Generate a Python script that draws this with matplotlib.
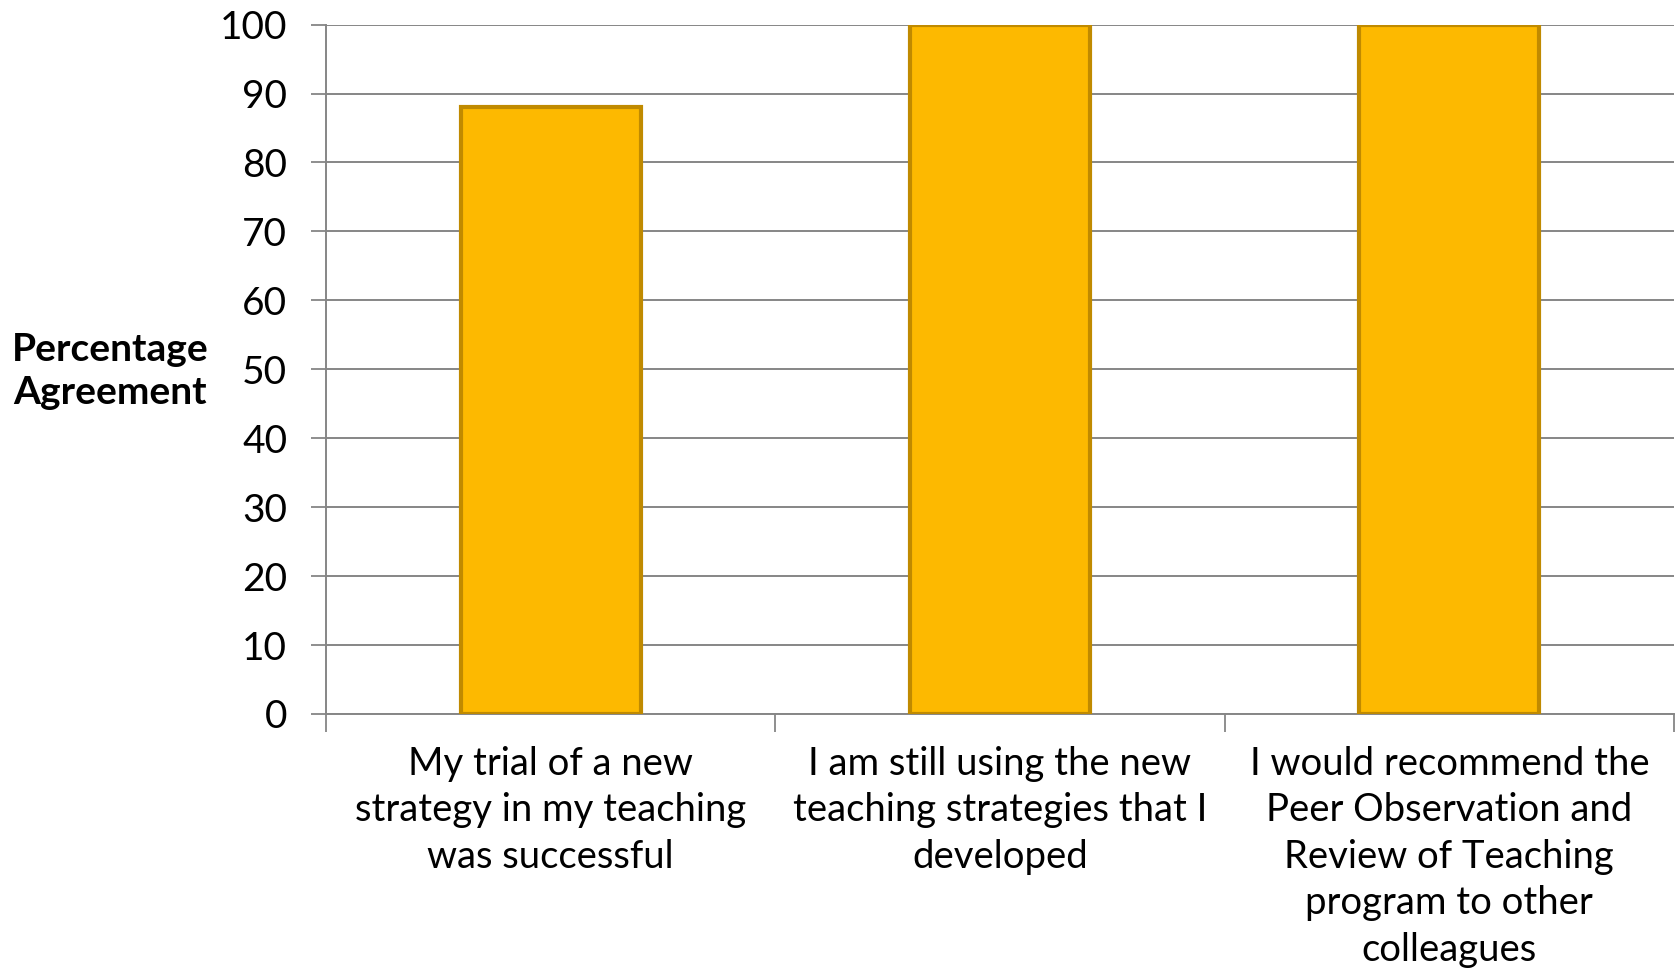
import matplotlib
matplotlib.use("Agg")
import matplotlib.pyplot as plt
import numpy as np

categories = [
    "My trial of a new\nstrategy in my teaching\nwas successful",
    "I am still using the new\nteaching strategies that I\ndeveloped",
    "I would recommend the\nPeer Observation and\nReview of Teaching\nprogram to other\ncolleagues",
]
values = [88, 100, 100]
yticks = [0, 10, 20, 30, 40, 50, 60, 70, 80, 90, 100]

plt.rcParams['font.family'] = ['Lato', 'DejaVu Sans']

fig = plt.figure(figsize=(16.77, 9.69), dpi=100)
ax = fig.add_axes([326/1677, 1-714/969, (1674-326)/1677, (714-24.6)/969])

x = np.arange(len(categories))
ax.bar(x, values, width=0.4, color="#FDB900", edgecolor="#C08A00", linewidth=3.0, zorder=3)

ax.set_xlim(-0.5, 2.5)
ax.set_ylim(0, 100)
ax.set_yticks(yticks)
ax.set_yticklabels([str(v) for v in yticks], fontsize=28)
ax.yaxis.grid(True, color="#868686", linewidth=1.4, zorder=0)
ax.set_axisbelow(True)

ax.set_xticks(np.arange(-0.5, 3.0, 1.0))
ax.set_xticklabels([])
ax.set_xticks(x, minor=True)
ax.set_xticklabels(categories, minor=True, fontsize=27.5, linespacing=1.36, va='top')
ax.tick_params(axis='x', which='major', length=13, width=1.3, color="#868686", direction='out')
ax.tick_params(axis='x', which='minor', length=0, pad=23)
ax.tick_params(axis='y', which='major', length=11, width=1.3, color="#868686", pad=17)

for s in ['top', 'right']:
    ax.spines[s].set_visible(False)
for s in ['left', 'bottom']:
    ax.spines[s].set_color("#868686")
    ax.spines[s].set_linewidth(1.4)

ax.set_ylabel("Percentage\nAgreement", rotation=0, fontsize=28, fontweight='bold',
              ha='center', va='center', linespacing=1.3)
ax.yaxis.set_label_coords(-0.160, 0.4975)

fig.savefig("out.png", dpi=100)
